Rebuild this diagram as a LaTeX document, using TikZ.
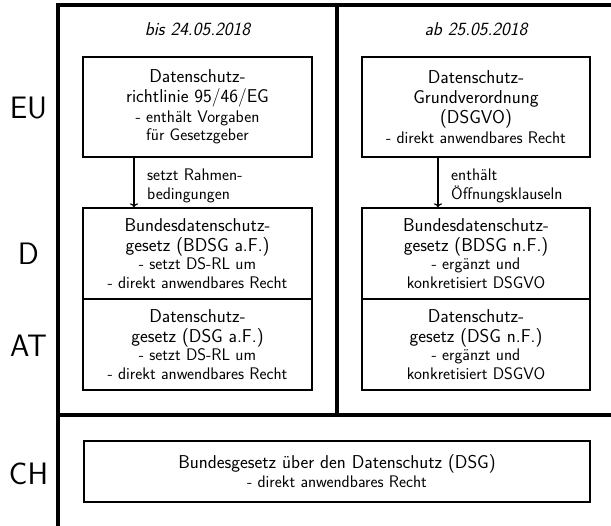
\documentclass[tikz,border=0pt]{standalone}
\usetikzlibrary{arrows.meta}
\newcommand\lgf{\fontsize{18.6}{20}\selectfont}
\newcommand\smf{\fontsize{16.8}{20}\selectfont}
\newcommand\lbf{\fontsize{31}{36}\selectfont}
\begin{document}
\begin{tikzpicture}[x=1pt,y=-1pt,
  frame/.style={line width=3.2pt},
  lawbox/.style={draw,line width=1.4pt,align=center,inner sep=0pt,font=\sffamily\fontsize{16.8}{20}\selectfont},
  colhead/.style={font=\sffamily\itshape\lgf,anchor=base,inner sep=0pt},
  country/.style={font=\sffamily\lbf,inner sep=0pt},
  arrowlabel/.style={font=\sffamily\fontsize{16.8}{18.5}\selectfont,align=left,anchor=west,inner sep=0pt},
  link/.style={line width=1.3pt,-{To[length=4pt,width=8pt]}}]
\useasboundingbox (0,0) rectangle (611,526);
% frame
\draw[frame] (611,5) -- (58,5) -- (58,530);
\draw[frame] (337,5) -- (337,415);
\draw[frame] (58,415) -- (615,415);
% headers
\node[colhead] (hl) at (197.5,36) {bis 24.05.2018};
\node[colhead] (hr) at (476,36) {ab 25.05.2018};
% country labels
\node[country] (leu) at (28.5,107.5) {EU};
\node[country] (ld) at (28.5,254) {D};
\node[country] (lat) at (28.5,346) {AT};
\node[country] (lch) at (28.5,474) {CH};
% EU boxes
\node[lawbox,minimum width=229pt,minimum height=100pt] (eul) at (197.5,107)
  {\lgf Datenschutz-\\\lgf richtlinie 95/46/EG\\[-0.5pt]\smf - enthält Vorgaben\\[-1.5pt]\smf für Gesetzgeber};
\node[lawbox,minimum width=228pt,minimum height=100pt] (eur) at (476,107)
  {\lgf Datenschutz-\\\lgf Grundverordnung\\\lgf (DSGVO)\\[-0.5pt]\smf - direkt anwendbares Recht};
% D boxes
\node[lawbox,minimum width=229pt,minimum height=91pt] (dl) at (197.5,253.5)
  {\lgf Bundesdatenschutz-\\\lgf gesetz (BDSG a.F.)\\[-2pt]\smf - setzt DS-RL um\\[-1pt]\smf - direkt anwendbares Recht};
\node[lawbox,minimum width=228pt,minimum height=91pt] (dr) at (476,253.5)
  {\lgf Bundesdatenschutz-\\\lgf gesetz (BDSG n.F.)\\[-2pt]\smf - ergänzt und\\[-1pt]\smf konkretisiert DSGVO};
% AT boxes
\node[lawbox,minimum width=229pt,minimum height=91pt] (atl) at (197.5,344.5)
  {\lgf Datenschutz-\\\lgf gesetz (DSG a.F.)\\[-2pt]\smf - setzt DS-RL um\\[-1pt]\smf - direkt anwendbares Recht};
\node[lawbox,minimum width=228pt,minimum height=91pt] (atr) at (476,344.5)
  {\lgf Datenschutz-\\\lgf gesetz (DSG n.F.)\\[-2pt]\smf - ergänzt und\\[-1pt]\smf konkretisiert DSGVO};
% CH box
\node[lawbox,minimum width=506pt,minimum height=61pt] (ch) at (337,471.5)
  {\lgf Bundesgesetz über den Datenschutz (DSG)\\[-1pt]\smf - direkt anwendbares Recht};
% arrows
\coordinate (axl) at (134,0);
\coordinate (axr) at (438,0);
\draw[link] (eul.south -| axl) -- (dl.north -| axl);
\draw[link] (eur.south -| axr) -- (dr.north -| axr);
\node[arrowlabel] (tl) at (147,186) {setzt Rahmen-\\bedingungen};
\node[arrowlabel] (tr) at (451,186) {enthält\\Öffnungsklauseln};
\end{tikzpicture}
\end{document}
